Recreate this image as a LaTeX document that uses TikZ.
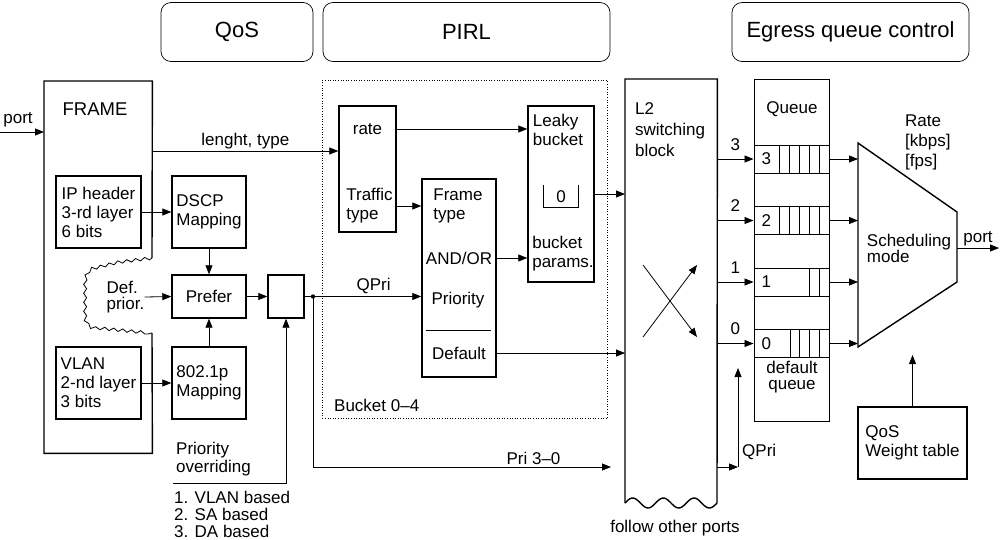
\documentclass[tikz,border=0pt]{standalone}
\usepackage{fontspec}
\setmainfont{Liberation Sans}
\usetikzlibrary{arrows.meta,decorations.pathmorphing}
\tikzset{
	>={Triangle[length=9pt,width=7pt]},
	box/.style={draw,line width=1.4pt,inner sep=0pt},
	headbox/.style={draw,line width=0.7pt,rounded corners=10pt,minimum height=59,font=\fontsize{22}{24}\selectfont},
	slot/.style={draw,line width=1pt,minimum width=75,minimum height=28,inner sep=0pt},
	conn/.style={line width=0.8pt},
	txt/.style={align=left,inner sep=0pt},
	lbl/.style={inner sep=2pt}
}
\begin{document}
\begin{tikzpicture}[x=1pt,y=-1pt,font=\fontsize{17}{19}\selectfont]
		\useasboundingbox (0,0) rectangle (1000,539);
		% section headers
		\node[headbox,minimum width=152] (hqos) at (237,32) {QoS};
		\node[headbox,minimum width=287] (hpirl) at (466.5,32) {PIRL};
		\node[headbox,minimum width=237] (hegress) at (850.5,32) {Egress queue control};
		
		% incoming frame
		\node[minimum width=108,minimum height=372,anchor=north west,inner sep=0] (frame) at (44,81) {};
		\draw[line width=1.4pt] (152,258) -- (frame.north east) -- (frame.north west) -- (frame.south west) -- (frame.south east) -- (152,333);
		\draw[line width=0.8pt,decorate,decoration={snake,segment length=9pt,amplitude=1.5pt}] (152,258) -- (120,262) -- (96,268) .. controls (87,270) and (87,280) .. (87,288) -- (87,315) .. controls (87,324) and (91,328) .. (100,328) -- (152,333);
		\node[font=\fontsize{18.5}{20}\selectfont] (frametitle) at (95,109) {FRAME};
		\coordinate (pin) at (0,132);
		\draw[conn,->] (pin) -- (frame.west |- pin);
		\node (portin) at (18,120) {port};
		\node[box,minimum width=85,minimum height=72,align=left] (iphdr) at (98.5,212) {IP header\\3-rd layer\\6 bits};
		\node[box,minimum width=74,minimum height=72,align=left] (dscp) at (209,212) {DSCP\\Mapping};
		\node[box,minimum width=74,minimum height=43] (prefer) at (209,296.5) {Prefer};
		\node[box,minimum width=36,minimum height=43] (selbox) at (286,296.5) {};
		\node[box,minimum width=85,minimum height=72,align=left] (vlan) at (98.5,383) {VLAN\\2-nd layer\\3 bits};
		\node[box,minimum width=74,minimum height=72,align=left] (dotp) at (209,383) {802.1p\\Mapping};
		\node[txt,font=\fontsize{17}{16}\selectfont] (defprior) at (125.5,297) {Def.\\prior.};
		\draw[conn,->] (iphdr) -- (dscp);
		\draw[conn,->] (vlan) -- (dotp);
		\draw[conn,->] (dscp) -- (prefer);
		\draw[conn,->] (dotp) -- (prefer);
		\draw[conn,->] (defprior.east) -- (prefer.west);
		\draw[conn,->] (prefer) -- (selbox);
		\coordinate (qdot) at (313,296.5);
		\fill (qdot) circle (2.2pt);
		\draw[conn] (selbox) -- (qdot);
		
		% priority overriding
		\coordinate (povr) at (173,483);
		\draw[conn,->] (povr) -| (selbox);
		\node[txt,anchor=west,font=\fontsize{17}{18}\selectfont] (povrtxt) at (176,459) {Priority\\overriding};
		\node[txt,anchor=west,font=\fontsize{17}{17}\selectfont] (povrlist) at (174,514) {1. VLAN based\\2. SA based\\3. DA based};
		
		% PIRL buckets
		\node[draw,dotted,line width=0.6pt,minimum width=285,minimum height=338,anchor=north west,inner sep=0] (bucket) at (322,80) {};
		\node[anchor=west,inner sep=0] (bucketlbl) at (334,405) {Bucket 0--4};
		\node[box,minimum width=57,minimum height=126] (ratebox) at (367.5,169) {};
		\node (rate) at (367.5,129) {rate};
		\node[txt] (ttype) at (369.5,206) {Traffic\\type};
		\node[box,minimum width=74,minimum height=198] (ftype) at (459,278) {};
		\node[txt] (frtype) at (458,206) {Frame\\type};
		\node (andor) at (459,258) {AND/OR};
		\node (prio) at (458,300) {Priority};
		\draw[conn] (426,330) -- (491,330);
		\node (dflt) at (459,353) {Default};
		\node[box,minimum width=66,minimum height=176] (leaky) at (561,194) {};
		\node[txt] (lkytxt) at (558,130) {Leaky\\bucket};
		\draw[conn] (543,185) |- (578,207) -- (578,185);
		\node (zero) at (561,197) {0};
		\node[txt] (bparams) at (563,253.5) {bucket\\params.};
		\draw[conn,->] (frame.east |- 0,151) -- (ratebox.west |- 0,151) node[lbl,midway,above] {lenght, type};
		\draw[conn,->] (ratebox.east |- rate) -- (leaky.west |- rate);
		\draw[conn,->] (ratebox.east |- ttype) -- (ftype.west |- ttype);
		\draw[conn,->] (qdot) -- (ftype.west |- qdot) node[lbl,pos=0.56,above] {QPri};
		\draw[conn,->] (ftype.east |- andor) -- (leaky.west |- andor);
		
		% L2 switching block
		\node[minimum width=92,minimum height=424,anchor=north west,inner sep=0] (l2) at (625,79) {};
		\draw[line width=1.4pt] (625,503) -- (l2.north west) -- (l2.north east) -- (717,503);
		\draw[line width=1.4pt,domain=0:92,samples=60] plot ({625+\x},{503-5*sin(\x/30.67*360)});
		\node[txt,font=\fontsize{17}{21}\selectfont] (l2txt) at (670,130) {L2\\switching\\block};
		\draw[conn,->] (643,265) -- (697,337);
		\draw[conn,->] (643,337) -- (697,265);
		\draw[conn,->] (leaky) -- (l2.west |- leaky);
		\draw[conn,->] (ftype.east |- dflt) -- (l2.west |- dflt);
		\coordinate (pri) at (611,467);
		\draw[conn,->] (qdot) |- (pri) node[lbl,pos=0.87,above] {Pri 3--0};
		\coordinate (qpc) at (738,467);
		\coordinate (qpup) at (738,368);
		\draw[conn,->] (l2.east |- pri) -- (qpc);
		\draw[conn,->] (qpc) -- (qpup);
		\node[anchor=west,inner sep=0] (qpri2) at (742,452) {QPri};
		\node (follow) at (675,528) {follow other ports};
		
		% egress queues
		\node[box,minimum width=75,minimum height=342,anchor=north west] (queue) at (754,79) {};
		\node (qtitle) at (792,109) {Queue};
		\node[align=center,inner sep=0,font=\fontsize{17}{16}\selectfont] (dq) at (792,377) {default\\queue};
		\coordinate (s1) at (858,143);
		\coordinate (s2) at (957,212);
		\coordinate (s3) at (957,282);
		\coordinate (s4) at (858,347);
		\draw[line width=1.4pt] (s1) -- (s2) -- (s3) -- (s4) -- cycle;
		\foreach \n/\y/\cells in {3/159/{779,789,799,809,819},2/220.5/{779,789,799,809,819},1/282/{809,819},0/343.5/{790,799,809,819}} {
			\node[slot] (q\n) at (791.5,\y) {};
			\node[anchor=west,xshift=8pt,inner sep=0] (lbl\n) at (q\n.west) {\n};
			\foreach \c in \cells \draw[line width=0.8pt] (\c,\y-14) -- (\c,\y+14);
			\draw[conn,->] (l2.east |- q\n) -- (q\n) node[midway,above=5pt] {\n};
			\draw[conn,->] (q\n) -- (s1 |- q\n);
		}
		\node[txt,font=\fontsize{17}{16}\selectfont] (schedtxt) at (909,248) {Scheduling\\mode};
		\node[txt,anchor=west,font=\fontsize{17}{20}\selectfont] (ratetxt) at (905,142) {Rate\\{[kbps]}\\{[fps]}};
		\coordinate (sout) at (957,248);
		\coordinate (pout) at (999,248);
		\draw[conn,->] (sout) -- (pout) node[lbl,midway,above] {port};
		\node[box,minimum width=109,minimum height=72,align=left] (wtable) at (912.5,443) {QoS\\Weight table};
		\coordinate (wtup) at (912.5,355);
		\draw[conn,->] (wtable) -- (wtup);
	\end{tikzpicture}
\end{document}
